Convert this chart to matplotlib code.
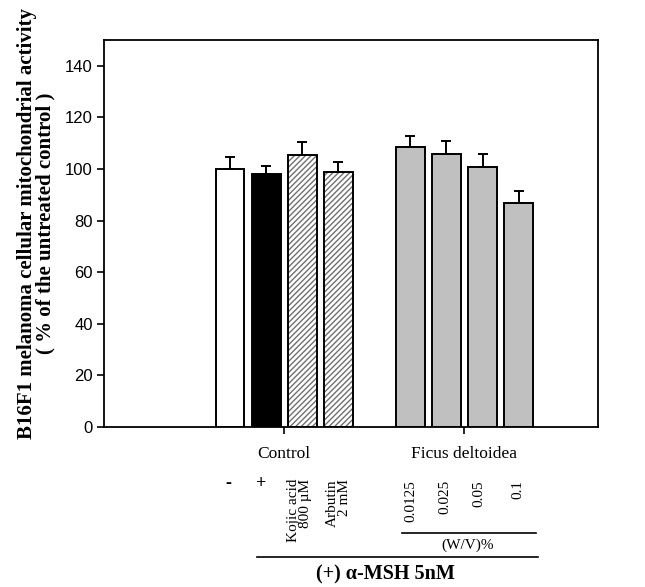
import numpy as np
import matplotlib.pyplot as plt
from matplotlib.transforms import blended_transform_factory

# Dane
pos = [0, 1, 2, 3, 5, 6, 7, 8]
vals = [100, 98, 105.5, 99, 108.5, 105.8, 100.6, 87]
errs = [4.8, 3.2, 4.8, 3.6, 4.3, 5.2, 5.2, 4.6]
faces = ['white', 'black', 'white', 'white', '#c0c0c0', '#c0c0c0', '#c0c0c0', '#c0c0c0']
hatches = [None, None, '//////', '//////', None, None, None, None]
groups = ['Control', 'Ficus deltoidea']
group_pos = [1.5, 6.5]
dose_labels = ['0.0125', '0.025', '0.05', '0.1']

serif = 'Liberation Serif'
sans = 'Liberation Sans'

fig = plt.figure(figsize=(6.45, 5.87), dpi=100)
ax = fig.add_axes([0.161, 0.2726, 0.766, 0.6593])

for p, v, e, fc, h in zip(pos, vals, errs, faces, hatches):
    if h:
        ax.bar(p, v, width=0.8, color='white', edgecolor='#707070', hatch=h, linewidth=0, zorder=2)
        ax.bar(p, v, width=0.8, color='none', edgecolor='black', linewidth=1.4, zorder=3)
    else:
        ax.bar(p, v, width=0.8, color=fc, edgecolor='black', linewidth=1.4, zorder=3)
    ax.errorbar(p, v, yerr=[[0], [e]], fmt='none', ecolor='black', elinewidth=1.4,
                capsize=3.6, capthick=1.4, zorder=4)

ax.set_xlim(-3.5, 10.2)
ax.set_ylim(0, 150)
ax.set_yticks(np.arange(0, 141, 20))
ax.set_yticklabels([str(t) for t in range(0, 141, 20)], fontfamily=sans, fontsize=12)
ax.set_xticks(group_pos)
ax.set_xticklabels(groups, fontfamily=serif, fontsize=12.5)
ax.tick_params(axis='x', direction='out', length=5, width=1.2, pad=9)
ax.tick_params(axis='y', direction='out', length=5, width=1.2, pad=3)
for s in ax.spines.values():
    s.set_linewidth(1.3)

ax.set_ylabel('B16F1 melanoma cellular mitochondrial activity\n( % of the untreated control )',
              fontfamily=serif, fontweight='bold', fontsize=15, linespacing=0.9)
ax.yaxis.set_label_coords(-0.097, 0.525)

# Opisy pod osią
tr = blended_transform_factory(ax.transData, fig.transFigure)
H = 587.0

def fy(y):
    return 1 - y / H

ax.text(-0.05, fy(483), '-', transform=tr, ha='center', va='center', fontfamily=serif,
        fontweight='bold', fontsize=13)
ax.text(0.86, fy(483), '+', transform=tr, ha='center', va='center', fontfamily=serif,
        fontweight='bold', fontsize=13)
ax.text(1.92, fy(479), 'Kojic acid\n800 µM', transform=tr, ha='center', va='top', rotation=90,
        multialignment='right', fontfamily=serif, fontsize=11, linespacing=0.9)
ax.text(3.0, fy(479), 'Arbutin\n2 mM', transform=tr, ha='center', va='top', rotation=90,
        multialignment='right', fontfamily=serif, fontsize=11, linespacing=0.9)
dose_x = [5.0, 5.97, 6.89, 7.97]
for x, lab in zip(dose_x, dose_labels):
    ax.text(x, fy(480), lab, transform=tr, ha='center', va='top', rotation=90,
            fontfamily=serif, fontsize=11)

ax.plot([4.78, 8.47], [fy(533), fy(533)], transform=tr, color='black', lw=1.2, clip_on=False)
ax.text(6.58, fy(545), '(W/V)%', transform=tr, ha='center', va='center', fontfamily=serif, fontsize=11)
ax.plot([0.75, 8.53], [fy(557), fy(557)], transform=tr, color='black', lw=1.2, clip_on=False)
ax.text(4.3, fy(574), '(+) α-MSH 5nM', transform=tr, ha='center', va='center',
        fontfamily=serif, fontweight='bold', fontsize=14.5)

plt.savefig('out.png', dpi=100)
